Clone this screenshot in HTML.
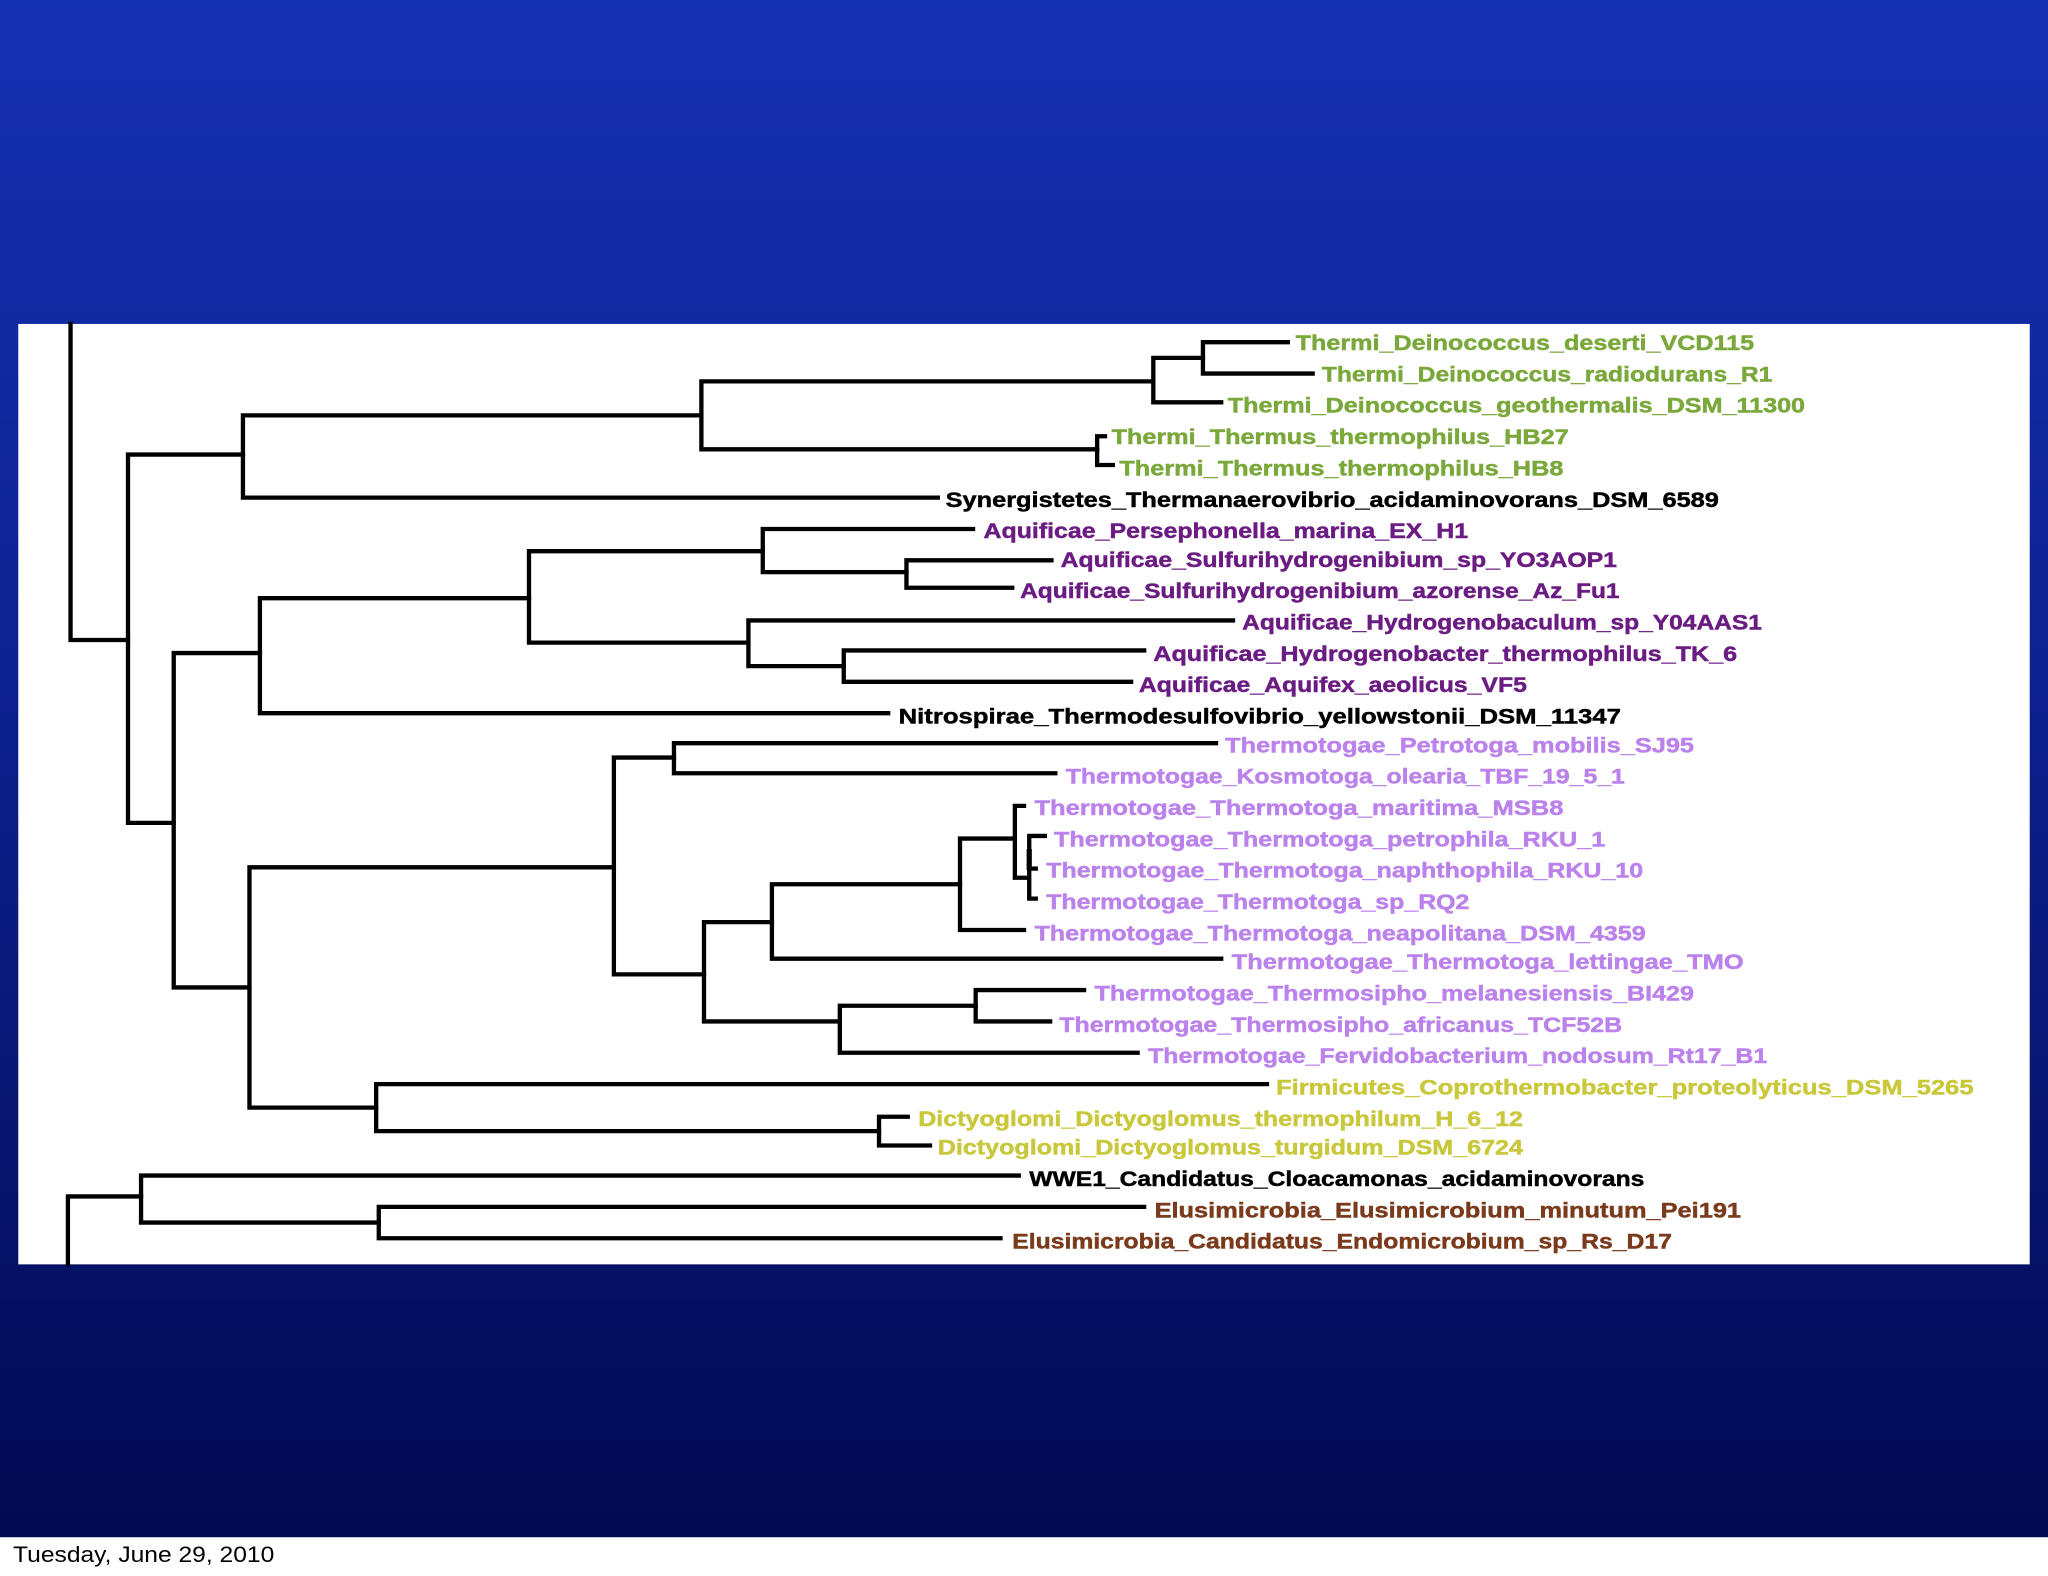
<!DOCTYPE html>
<html><head><meta charset="utf-8"><style>
html,body{margin:0;padding:0;width:2048px;height:1576px;overflow:hidden;background:#fff}
svg{display:block}
text{font-family:"Liberation Sans",sans-serif;font-weight:bold;font-size:16px;dominant-baseline:central;stroke-width:0.35px}
</style></head><body>
<svg width="2048" height="1576" viewBox="0 0 1568 1206.6" preserveAspectRatio="none">
<defs><linearGradient id="bg" x1="0" y1="0" x2="0" y2="1">
<stop offset="0" stop-color="#1531b3"/><stop offset="0.5" stop-color="#0c1f8a"/><stop offset="1" stop-color="#030a52"/></linearGradient></defs>
<rect x="0" y="0" width="1568" height="1177" fill="url(#bg)"/>
<rect x="0" y="1177" width="1568" height="30" fill="#fff"/>
<text x="10" y="1190" style="font-weight:normal;font-size:17px" fill="#000" textLength="200" lengthAdjust="spacingAndGlyphs">Tuesday, June 29, 2010</text>
<rect x="14" y="248" width="1540" height="720" fill="#fff"/>
<g stroke="#000" stroke-width="3.3" fill="none" stroke-linecap="square">
<path d="M54 248V490H98"/>
<path d="M52 968V916H108"/>
<path d="M186 348H98V630H133"/>
<path d="M537 318H186V381H718"/>
<path d="M883 292H537V344H840"/>
<path d="M921 274H883V308H935"/>
<path d="M986 262H921V286H1005"/>
<path d="M846 334H840V356H852"/>
<path d="M199 500H133V756H191"/>
<path d="M405 458H199V546H680"/>
<path d="M584 422H405V492H573"/>
<path d="M745 405H584V438H694"/>
<path d="M805 429H694V450H775"/>
<path d="M944 475H573V510H646"/>
<path d="M876 498H646V522H866"/>
<path d="M470 664H191V848H288"/>
<path d="M516 580H470V746H539"/>
<path d="M931 569H516V592H808"/>
<path d="M591 706H539V782H643"/>
<path d="M735 677H591V734H935"/>
<path d="M777 642H735V712H784"/>
<path d="M784 617H777V672H787"/>
<path d="M800 640H788V688H793"/>
<path d="M788 665H793"/>
<path d="M747 770H643V806H871"/>
<path d="M830 758H747V782H804"/>
<path d="M970 830H288V866H673"/>
<path d="M695 855H673V877H712"/>
<path d="M780 900H108V936H290"/>
<path d="M876 924H290V948H766"/>
</g>
<rect x="786" y="650" width="4" height="16" fill="#000"/>
<g fill="#7aa83a" stroke="#7aa83a">
<text x="992" y="263" textLength="351" lengthAdjust="spacingAndGlyphs">Thermi_Deinococcus_deserti_VCD115</text>
<text x="1012" y="287" textLength="345" lengthAdjust="spacingAndGlyphs">Thermi_Deinococcus_radiodurans_R1</text>
<text x="940" y="311" textLength="442" lengthAdjust="spacingAndGlyphs">Thermi_Deinococcus_geothermalis_DSM_11300</text>
<text x="851" y="335" textLength="350" lengthAdjust="spacingAndGlyphs">Thermi_Thermus_thermophilus_HB27</text>
<text x="857" y="359" textLength="340" lengthAdjust="spacingAndGlyphs">Thermi_Thermus_thermophilus_HB8</text>
</g>
<g fill="#000" stroke="#000">
<text x="724" y="383" textLength="592" lengthAdjust="spacingAndGlyphs">Synergistetes_Thermanaerovibrio_acidaminovorans_DSM_6589</text>
<text x="688" y="549" textLength="553" lengthAdjust="spacingAndGlyphs">Nitrospirae_Thermodesulfovibrio_yellowstonii_DSM_11347</text>
<text x="788" y="903" textLength="471" lengthAdjust="spacingAndGlyphs">WWE1_Candidatus_Cloacamonas_acidaminovorans</text>
</g>
<g fill="#6b1c82" stroke="#6b1c82">
<text x="753" y="407" textLength="371" lengthAdjust="spacingAndGlyphs">Aquificae_Persephonella_marina_EX_H1</text>
<text x="812" y="429" textLength="426" lengthAdjust="spacingAndGlyphs">Aquificae_Sulfurihydrogenibium_sp_YO3AOP1</text>
<text x="781" y="453" textLength="459" lengthAdjust="spacingAndGlyphs">Aquificae_Sulfurihydrogenibium_azorense_Az_Fu1</text>
<text x="951" y="477" textLength="398" lengthAdjust="spacingAndGlyphs">Aquificae_Hydrogenobaculum_sp_Y04AAS1</text>
<text x="883" y="501" textLength="447" lengthAdjust="spacingAndGlyphs">Aquificae_Hydrogenobacter_thermophilus_TK_6</text>
<text x="872" y="525" textLength="297" lengthAdjust="spacingAndGlyphs">Aquificae_Aquifex_aeolicus_VF5</text>
</g>
<g fill="#bb82ec" stroke="#bb82ec">
<text x="938" y="571" textLength="359" lengthAdjust="spacingAndGlyphs">Thermotogae_Petrotoga_mobilis_SJ95</text>
<text x="816" y="595" textLength="428" lengthAdjust="spacingAndGlyphs">Thermotogae_Kosmotoga_olearia_TBF_19_5_1</text>
<text x="792" y="619" textLength="405" lengthAdjust="spacingAndGlyphs">Thermotogae_Thermotoga_maritima_MSB8</text>
<text x="807" y="643" textLength="422" lengthAdjust="spacingAndGlyphs">Thermotogae_Thermotoga_petrophila_RKU_1</text>
<text x="801" y="667" textLength="457" lengthAdjust="spacingAndGlyphs">Thermotogae_Thermotoga_naphthophila_RKU_10</text>
<text x="801" y="691" textLength="324" lengthAdjust="spacingAndGlyphs">Thermotogae_Thermotoga_sp_RQ2</text>
<text x="792" y="715" textLength="468" lengthAdjust="spacingAndGlyphs">Thermotogae_Thermotoga_neapolitana_DSM_4359</text>
<text x="943" y="737" textLength="392" lengthAdjust="spacingAndGlyphs">Thermotogae_Thermotoga_lettingae_TMO</text>
<text x="838" y="761" textLength="459" lengthAdjust="spacingAndGlyphs">Thermotogae_Thermosipho_melanesiensis_BI429</text>
<text x="811" y="785" textLength="431" lengthAdjust="spacingAndGlyphs">Thermotogae_Thermosipho_africanus_TCF52B</text>
<text x="879" y="809" textLength="474" lengthAdjust="spacingAndGlyphs">Thermotogae_Fervidobacterium_nodosum_Rt17_B1</text>
</g>
<g fill="#c9c83c" stroke="#c9c83c">
<text x="977" y="833" textLength="534" lengthAdjust="spacingAndGlyphs">Firmicutes_Coprothermobacter_proteolyticus_DSM_5265</text>
<text x="703" y="857" textLength="463" lengthAdjust="spacingAndGlyphs">Dictyoglomi_Dictyoglomus_thermophilum_H_6_12</text>
<text x="718" y="879" textLength="448" lengthAdjust="spacingAndGlyphs">Dictyoglomi_Dictyoglomus_turgidum_DSM_6724</text>
</g>
<g fill="#7a3a1c" stroke="#7a3a1c">
<text x="884" y="927" textLength="449" lengthAdjust="spacingAndGlyphs">Elusimicrobia_Elusimicrobium_minutum_Pei191</text>
<text x="775" y="951" textLength="505" lengthAdjust="spacingAndGlyphs">Elusimicrobia_Candidatus_Endomicrobium_sp_Rs_D17</text>
</g>
</svg>
</body></html>
